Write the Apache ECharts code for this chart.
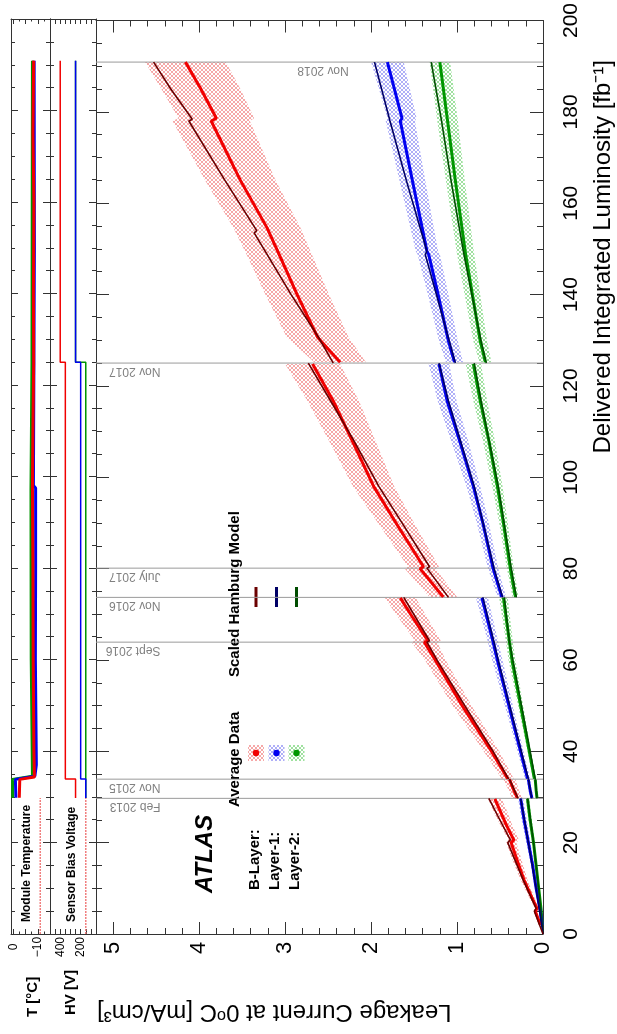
<!DOCTYPE html>
<html>
<head>
<meta charset="utf-8">
<script src="https://cdn.jsdelivr.net/npm/echarts@6/dist/echarts.min.js"></script>
<style>
  html, body { margin: 0; padding: 0; background: #fff; }
  #chart { width: 617px; height: 1034px; }
</style>
</head>
<body>
<div id="chart"></div>
<script>
// chart is drawn rotated: luminosity runs bottom->top, leakage right->left

// ticks
const lumiTicks = [0, 20, 40, 60, 80, 100, 120, 140, 160, 180, 200];
const leakTicks = [0, 1, 2, 3, 4, 5];
const tempTicks = [0, -10];
const hvTicks = [400, 200];

// shutdown / annealing markers [fb-1]
const dateLumi = [29.7, 33.9, 63.9, 73.7, 80.1, 125.0, 190.9];
const dateNames = ['Feb 2013', 'Nov 2015', 'Sept 2016', 'Nov 2016', 'July 2017', 'Nov 2017', 'Nov 2018'];

// average data, [lumi, mA/cm3], one list per running period
const bLayerData = [
  [[2, 0.03], [5, 0.09], [5.6, 0.07], [8, 0.13], [11.8, 0.22], [15, 0.28], [20, 0.37], [20.6, 0.34], [24, 0.43], [27, 0.5], [29.6, 0.56]],
  [[29.8, 0.30], [31.5, 0.34], [33.8, 0.39]],
  [[34, 0.41], [40, 0.6], [50, 0.94], [59.9, 1.25], [63.9, 1.38], [64.2, 1.34], [70, 1.54], [73.6, 1.66]],
  [[73.8, 1.16], [77, 1.3], [80, 1.43], [80.4, 1.39], [90, 1.71], [98, 1.97], [108, 2.22], [116.7, 2.44], [124.8, 2.68]],
  [[125.2, 2.36], [130.6, 2.62], [140, 2.86], [148.8, 3.07], [154.6, 3.21], [165, 3.52], [178, 3.86], [178.6, 3.80], [185, 3.98], [190.9, 4.16]]
];
const layer1Data = [
  [[2, 0.01], [5, 0.03], [10, 0.08], [15, 0.12], [20, 0.17], [25, 0.22], [29.6, 0.26]],
  [[29.8, 0.13], [31.5, 0.15], [33.8, 0.17]],
  [[34, 0.18], [45, 0.33], [59.9, 0.53], [63.9, 0.58], [73.6, 0.71]],
  [[73.8, 0.48], [80, 0.58], [90, 0.7], [98, 0.81], [108, 0.97], [116.7, 1.115], [124.8, 1.21]],
  [[125.2, 1.03], [129.8, 1.10], [140, 1.22], [148.8, 1.33], [149.5, 1.35], [165, 1.52], [178, 1.66], [178.6, 1.64], [190.9, 1.81]]
];
const layer2Data = [
  [[2, 0.01], [5, 0.02], [10, 0.05], [15, 0.08], [20, 0.11], [25, 0.15], [29.6, 0.18]],
  [[29.8, 0.07], [31.5, 0.08], [33.8, 0.09]],
  [[34, 0.1], [45, 0.21], [59.9, 0.36], [63.9, 0.39], [73.6, 0.46]],
  [[73.8, 0.32], [80, 0.38], [90, 0.46], [98, 0.53], [108, 0.63], [116.7, 0.73], [124.8, 0.81]],
  [[125.2, 0.67], [129.8, 0.73], [148.8, 0.9], [165, 1.02], [178, 1.11], [190.9, 1.2]]
];

// half width of the data uncertainty band, same points as above
const bLayerErr = [
  [0.01, 0.02, 0.02, 0.03, 0.04, 0.05, 0.06, 0.06, 0.07, 0.08, 0.08],
  [0.06, 0.06, 0.07],
  [0.07, 0.09, 0.11, 0.12, 0.15, 0.15, 0.17, 0.18],
  [0.16, 0.17, 0.18, 0.18, 0.21, 0.24, 0.27, 0.3, 0.32],
  [0.3, 0.36, 0.37, 0.38, 0.39, 0.41, 0.45, 0.44, 0.46, 0.47]
];
const layer1Err = [
  [0.005, 0.01, 0.015, 0.02, 0.025, 0.03, 0.03],
  [0.02, 0.02, 0.02],
  [0.03, 0.04, 0.06, 0.06, 0.07],
  [0.05, 0.06, 0.07, 0.08, 0.1, 0.11, 0.12],
  [0.1, 0.11, 0.12, 0.13, 0.13, 0.15, 0.17, 0.17, 0.19]
];
const layer2Err = [
  [0.003, 0.005, 0.01, 0.01, 0.015, 0.02, 0.02],
  [0.01, 0.01, 0.01],
  [0.015, 0.025, 0.04, 0.04, 0.05],
  [0.035, 0.04, 0.05, 0.06, 0.07, 0.08, 0.09],
  [0.07, 0.08, 0.1, 0.11, 0.12, 0.12]
];

// scaled Hamburg model
const bLayerModel = [
  [[0, 0], [5, 0.1], [5.6, 0.08], [11.8, 0.23], [20, 0.41], [20.6, 0.38], [26, 0.53], [29.7, 0.63]],
  [[29.7, 0.29], [33.9, 0.39]],
  [[33.9, 0.40], [40, 0.58], [50, 0.91], [59.9, 1.23], [63.9, 1.35], [64.2, 1.32], [73.7, 1.62]],
  [[73.7, 1.10], [80.1, 1.35], [80.4, 1.32], [90, 1.64], [98, 1.91], [108, 2.2], [116.7, 2.47], [125, 2.73]],
  [[125, 2.44], [130.6, 2.61], [140, 2.93], [148.8, 3.21], [153.5, 3.36], [154, 3.33], [165, 3.7], [178, 4.12], [178.4, 4.08], [185, 4.33], [190.9, 4.53]]
];
const layer1Model = [
  [[0, 0], [10, 0.08], [20, 0.17], [29.7, 0.26]],
  [[29.7, 0.13], [33.9, 0.17]],
  [[33.9, 0.17], [45, 0.32], [59.9, 0.52], [63.9, 0.57], [73.7, 0.70]],
  [[73.7, 0.47], [80.1, 0.57], [98, 0.8], [116.7, 1.1], [125, 1.21]],
  [[125, 1.02], [129.8, 1.09], [140, 1.24], [148.8, 1.37], [149.5, 1.35], [165, 1.59], [178, 1.78], [190.9, 1.96]]
];
const layer2Model = [
  [[0, 0], [10, 0.05], [20, 0.11], [29.7, 0.18]],
  [[29.7, 0.07], [33.9, 0.09]],
  [[33.9, 0.09], [45, 0.2], [59.9, 0.35], [63.9, 0.39], [73.7, 0.45]],
  [[73.7, 0.31], [80.1, 0.37], [98, 0.52], [116.7, 0.72], [125, 0.8]],
  [[125, 0.66], [129.8, 0.72], [148.8, 0.92], [165, 1.07], [178, 1.18], [190.9, 1.3]]
];

// module temperature [lumi, C]
const run1Temp = [[0, -11], [29.7, -11]];
const bLayerTemp = [[29.8, -2.4], [33.8, -2.6], [34.3, -8.6], [40, -8.4], [60, -8.1], [80, -8.0], [97.7, -7.8], [110, -8.0], [125, -8.3], [140, -8.2], [160, -8.4], [175, -8.0], [190.9, -8.3]];
const layer1Temp = [[29.8, -1.0], [33.8, -0.8], [34.5, -8.8], [37, -9.4], [60, -9.0], [80, -9.1], [97.5, -9.1], [98, -8.2], [125, -8.4], [150, -8.6], [190.9, -8.5]];
const layer2Temp = [[29.8, 0.3], [33.8, 0.4], [34.5, -7.8], [60, -7.3], [97, -7.2], [125, -7.6], [190.9, -7.8]];

// sensor bias voltage [lumi, V]
const run1HV = [[0, 150], [29.7, 150]];
const bLayerHV = [[29.7, 250], [33.9, 250], [33.9, 350], [125, 350], [125, 400], [190.9, 400]];
const layer1HV = [[29.7, 150], [33.9, 150], [33.9, 200], [125, 200], [125, 250], [190.9, 250]];
const layer2HV = [[29.7, 150], [125, 150], [125, 250], [190.9, 250]];

const FONT = '"Liberation Sans", Arial, sans-serif';
const AXC = '#333';

function hatch(color) {
  const c = document.createElement('canvas');
  c.width = 4; c.height = 4;
  const ctx = c.getContext('2d');
  ctx.fillStyle = color;
  for (let i = 0; i < 4; i++) {
    ctx.fillRect(i, i, 1, 1);
    ctx.fillRect(3 - i, i, 1, 1);
  }
  return c;
}

const layers = [
  { name: 'Layer-2', data: layer2Data, model: layer2Model, err: layer2Err, dot: '#009600', line: '#004d00', fill: hatch('rgba(80,200,80,0.55)') },
  { name: 'Layer-1', data: layer1Data, model: layer1Model, err: layer1Err, dot: '#0000f0', line: '#000066', fill: hatch('rgba(110,110,240,0.55)') },
  { name: 'B-Layer', data: bLayerData, model: bLayerModel, err: bLayerErr, dot: '#f00000', line: '#6a0000', fill: hatch('rgba(240,110,110,0.6)') }
];

const flip = pts => pts.map(p => [p[1], p[0]]);

function pickLabel(list, txt) {
  return v => list.indexOf(v) >= 0 ? txt(v) : '';
}

function xAx(grid, pos, min, max, interval, split, inverse, labels, opts) {
  const o = {
    type: 'value', gridIndex: grid, position: pos, min: min, max: max, interval: interval, inverse: inverse,
    axisLine: { show: true, onZero: false, lineStyle: { color: AXC, width: 1 } },
    axisTick: { show: true, inside: true, length: opts.tick, lineStyle: { color: AXC } },
    minorTick: { show: true, splitNumber: split, length: opts.tick / 2, lineStyle: { color: AXC } },
    splitLine: { show: false },
    axisLabel: { show: false }
  };
  if (labels) {
    o.axisLabel = {
      show: true, rotate: 90, align: 'center', verticalAlign: 'middle', margin: opts.margin,
      fontFamily: FONT, fontSize: opts.font, color: '#000', showMaxLabel: false,
      formatter: labels
    };
  }
  return o;
}

function yAx(grid, pos, labels) {
  const o = {
    type: 'value', gridIndex: grid, position: pos, min: 0, max: 200, interval: 20,
    axisLine: { show: true, onZero: false, lineStyle: { color: AXC, width: 1 } },
    axisTick: { show: true, inside: true, length: grid === 0 ? 13 : 7, lineStyle: { color: AXC } },
    minorTick: { show: true, splitNumber: 4, length: grid === 0 ? 6 : 4, lineStyle: { color: AXC } },
    splitLine: { show: false },
    axisLabel: { show: false }
  };
  if (labels) {
    o.axisLabel = {
      show: true, rotate: 90, align: 'center', verticalAlign: 'middle', margin: 28,
      fontFamily: FONT, fontSize: 21, color: '#000',
      formatter: pickLabel(lumiTicks, v => String(v))
    };
  }
  return o;
}

const series = [];

// uncertainty bands
layers.forEach(L => {
  series.push({
    type: 'custom', xAxisIndex: 0, yAxisIndex: 0, z: 1, silent: true, clip: true,
    data: L.data.map((s, i) => [s[0][1], s[0][0], i]),
    renderItem: function (params, api) {
      const k = params.dataIndex;
      const seg = L.data[k], e = L.err[k];
      const up = seg.map((p, j) => api.coord([p[1] + e[j], p[0]]));
      const lo = seg.map((p, j) => api.coord([Math.max(0, p[1] - e[j]), p[0]])).reverse();
      return {
        type: 'polygon',
        shape: { points: up.concat(lo) },
        style: { fill: { image: L.fill, repeat: 'repeat' }, stroke: null }
      };
    }
  });
});

// data
layers.forEach(L => {
  L.data.forEach(seg => {
    series.push({
      type: 'line', xAxisIndex: 0, yAxisIndex: 0, z: 3, silent: true, showSymbol: false,
      data: flip(seg), lineStyle: { color: L.dot, width: 3 }, animation: false
    });
  });
});

// model
layers.forEach(L => {
  L.model.forEach(seg => {
    series.push({
      type: 'line', xAxisIndex: 0, yAxisIndex: 0, z: 4, silent: true, showSymbol: false,
      data: flip(seg), lineStyle: { color: L.line, width: 1.6 }, animation: false
    });
  });
});

// date markers
series.push({
  type: 'custom', xAxisIndex: 0, yAxisIndex: 0, z: 2, silent: true, clip: false,
  data: dateLumi.map((l, i) => [0, l, i]),
  renderItem: function (params, api) {
    const i = params.dataIndex;
    const a = api.coord([0, dateLumi[i]]);
    const b = api.coord([5.2, dateLumi[i]]);
    const t = api.coord([i === dateLumi.length - 1 ? 2.26 : 4.45, dateLumi[i]]);
    return {
      type: 'group',
      children: [
        { type: 'line', shape: { x1: a[0], y1: a[1], x2: b[0], y2: b[1] }, style: { stroke: '#9a9a9a', lineWidth: 1 } },
        { type: 'text', x: t[0], y: t[1] + 2, rotation: Math.PI,
          style: { text: dateNames[i], fill: '#808080', font: '12px ' + FONT, align: 'left', verticalAlign: 'bottom' } }
      ]
    };
  }
});

// temperature panel
[[layer2Temp, '#009600'], [layer1Temp, '#0000f0'], [bLayerTemp, '#f00000']].forEach(d => {
  series.push({ type: 'line', xAxisIndex: 4, yAxisIndex: 4, silent: true, showSymbol: false,
    data: flip(d[0]), lineStyle: { color: d[1], width: 3 }, animation: false });
});
series.push({ type: 'line', xAxisIndex: 4, yAxisIndex: 4, silent: true, showSymbol: false,
  data: flip(run1Temp), lineStyle: { color: '#f08080', width: 1.5, type: [2, 1] }, animation: false });

// HV panel
[[layer2HV, '#009600'], [layer1HV, '#0000f0'], [bLayerHV, '#f00000']].forEach(d => {
  series.push({ type: 'line', xAxisIndex: 2, yAxisIndex: 2, silent: true, showSymbol: false,
    data: flip(d[0]), lineStyle: { color: d[1], width: 1.5 }, animation: false });
});
series.push({ type: 'line', xAxisIndex: 2, yAxisIndex: 2, silent: true, showSymbol: false,
  data: flip(run1HV), lineStyle: { color: '#f08080', width: 1.5, type: [2, 1] }, animation: false });

// legend + titles
const txt = (x, y, rot, text, font, align, extra) => Object.assign({
  type: 'text', x: x, y: y, rotation: rot, silent: true,
  style: { text: text, font: font, fill: '#000', align: align || 'left', verticalAlign: 'middle' }
}, extra || {});
const up = Math.PI / 2;
const legendX = [256, 276.5, 296.5];
const graphic = [
  txt(603, 60, up, 'Delivered Integrated Luminosity [fb⁻¹]', '24px ' + FONT, 'right'),
  txt(97, 1012, Math.PI, 'Leakage Current at 0ᵒC [mA/cm³]', '24px ' + FONT, 'right'),
  txt(33, 1017, up, 'T [°C]', 'bold 15px ' + FONT),
  txt(71, 1015, up, 'HV [V]', 'bold 15px ' + FONT),
  txt(27, 922, up, 'Module Temperature', 'bold 12px ' + FONT),
  txt(72, 922, up, 'Sensor Bias Voltage', 'bold 12px ' + FONT),
  txt(205, 893, up, 'ATLAS', 'italic bold 24px ' + FONT),
  txt(255, 890, up, 'B-Layer:', 'bold 15px ' + FONT),
  txt(275, 890, up, 'Layer-1:', 'bold 15px ' + FONT),
  txt(295, 890, up, 'Layer-2:', 'bold 15px ' + FONT),
  txt(235, 807, up, 'Average Data', 'bold 15px ' + FONT),
  txt(235, 677, up, 'Scaled Hamburg Model', 'bold 15px ' + FONT)
];
[layers[2], layers[1], layers[0]].forEach((L, i) => {
  graphic.push({ type: 'rect', silent: true, shape: { x: legendX[i] - 8, y: 745, width: 16, height: 16 },
    style: { fill: { image: L.fill, repeat: 'repeat' } } });
  graphic.push({ type: 'circle', silent: true, shape: { cx: legendX[i], cy: 753, r: 3.2 }, style: { fill: L.dot } });
  graphic.push({ type: 'line', silent: true, shape: { x1: legendX[i], y1: 587, x2: legendX[i], y2: 607 },
    style: { stroke: L.line, lineWidth: 3 } });
});

const chart = echarts.init(document.getElementById('chart'));
chart.setOption({
  animation: false,
  backgroundColor: '#fff',
  grid: [
    { left: 96, right: 74, top: 19, bottom: 100 },
    { left: 50, width: 46, top: 19, bottom: 100 },
    { left: 11, width: 39, top: 19, bottom: 100 }
  ],
  xAxis: [
    xAx(0, 'bottom', 0, 5.2, 1, 5, true, pickLabel(leakTicks, v => String(v)), { tick: 12, margin: 14, font: 22 }),
    xAx(0, 'top', 0, 5.2, 1, 5, true, null, { tick: 12 }),
    xAx(1, 'bottom', 50, 500, 50, 1, true, pickLabel(hvTicks, v => String(v)), { tick: 5, margin: 13, font: 12 }),
    xAx(1, 'top', 50, 500, 50, 1, true, null, { tick: 5 }),
    xAx(2, 'bottom', -15, 1, 5, 2, true, pickLabel(tempTicks, v => v < 0 ? '−' + Math.abs(v) : String(v)), { tick: 5, margin: 13, font: 12 }),
    xAx(2, 'top', -15, 1, 5, 2, true, null, { tick: 5 })
  ],
  yAxis: [
    yAx(0, 'right', true),
    yAx(0, 'left', false),
    yAx(1, 'left', false),
    yAx(1, 'right', false),
    yAx(2, 'left', false),
    yAx(2, 'right', false)
  ],
  series: series,
  graphic: graphic
});
</script>
</body>
</html>
